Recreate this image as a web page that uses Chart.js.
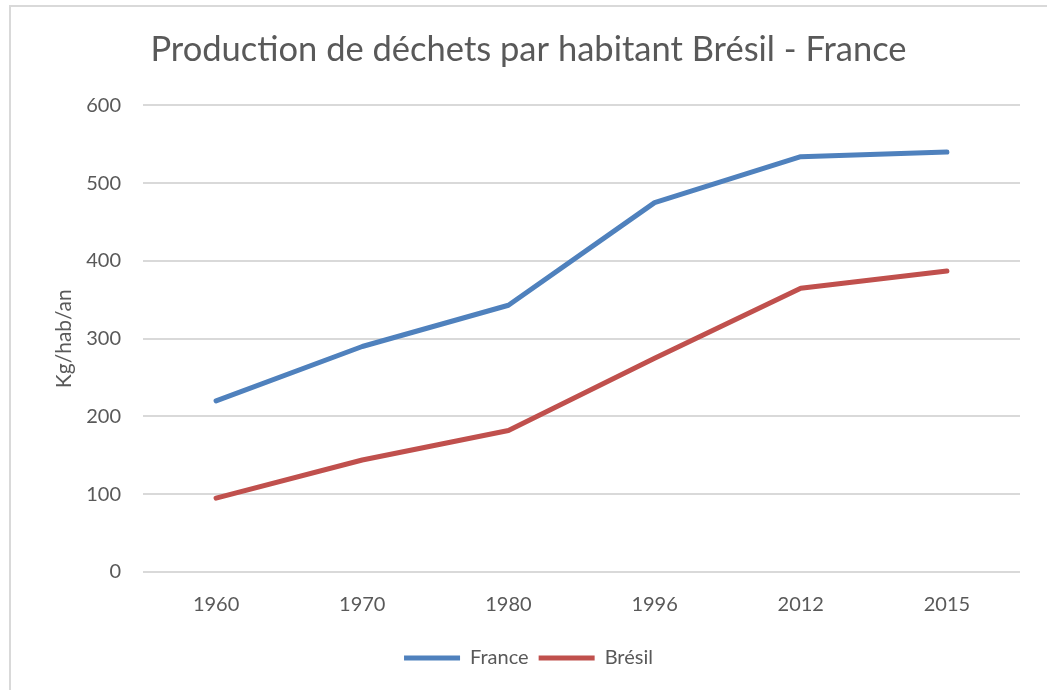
<!DOCTYPE html>
<html>
<head>
<meta charset="utf-8">
<script src="https://cdn.jsdelivr.net/npm/chart.js@4"></script>
<style>
  html, body { margin: 0; padding: 0; background: #fff; overflow: hidden; }
  #wrap { position: relative; width: 1047px; height: 690px; }
  #frame { position: absolute; left: 9px; top: 5px; width: 1100px; height: 720px; border: 2px solid #d9d9d9; box-sizing: border-box; }
  canvas { position: absolute; left: 0; top: 0; }
</style>
</head>
<body>
<div id="wrap">
  <div id="frame"></div>
  <canvas id="wasteChart" width="1047" height="690"></canvas>
</div>
<script>
// ==== Data ====
const years = ["1960", "1970", "1980", "1996", "2012", "2015"];
const france = [220, 290, 343, 475, 534, 540];
const bresil = [95, 144, 182, 275, 365, 387];
const yTicks = [0, 100, 200, 300, 400, 500, 600];

const textColor = "#595959";
const gridColor = "#d9d9d9";
const fontFamily = "Lato, 'Open Sans', sans-serif";

const ctx = document.getElementById("wasteChart").getContext("2d");
new Chart(ctx, {
  type: "line",
  data: {
    labels: years,
    datasets: [
      {
        label: "France",
        data: france,
        borderColor: "#4f81bd",
        backgroundColor: "#4f81bd",
        borderWidth: 5,
        borderCapStyle: "round",
        borderJoinStyle: "round",
        pointRadius: 0,
        tension: 0,
        fill: false
      },
      {
        label: "Brésil",
        data: bresil,
        borderColor: "#c0504d",
        backgroundColor: "#c0504d",
        borderWidth: 5,
        borderCapStyle: "round",
        borderJoinStyle: "round",
        pointRadius: 0,
        tension: 0,
        fill: false
      }
    ]
  },
  options: {
    responsive: false,
    animation: false,
    layout: { padding: { left: 10, top: 0, right: 0, bottom: 12 } },
    plugins: {
      title: {
        display: true,
        text: "Production de déchets par habitant Brésil - France",
        color: textColor,
        font: { family: fontFamily, size: 34.5, weight: "normal" },
        padding: { top: 29, bottom: 35 }
      },
      legend: {
        position: "bottom",
        labels: {
          color: textColor,
          font: { family: fontFamily, size: 20 },
          usePointStyle: true,
          pointStyle: "line",
          pointStyleWidth: 56,
          boxWidth: 47,
          boxHeight: 4,
          padding: 10
        }
      },
      tooltip: { enabled: false }
    },
    scales: {
      x: {
        offset: true,
        grid: { display: false, drawTicks: false },
        border: { display: false },
        ticks: { color: textColor, font: { family: fontFamily, size: 20 }, padding: 21, maxRotation: 0 }
      },
      y: {
        min: 0,
        max: 600,
        afterBuildTicks: s => { s.ticks = yTicks.map(v => ({ value: v })); },
        afterFit: s => { s.width = 133; },
        grid: { color: gridColor, lineWidth: 2, drawTicks: false },
        border: { display: false },
        ticks: { color: textColor, font: { family: fontFamily, size: 20 }, padding: 22 },
        title: {
          display: true,
          text: "Kg/hab/an",
          color: textColor,
          font: { family: fontFamily, size: 21 },
          padding: { top: 42, bottom: 0 }
        }
      },
      yRight: {
        position: "right",
        display: true,
        min: 0,
        max: 600,
        afterFit: s => { s.width = 27; },
        grid: { display: false, drawTicks: false },
        border: { display: false },
        ticks: { display: false }
      }
    }
  }
});
</script>
</body>
</html>
